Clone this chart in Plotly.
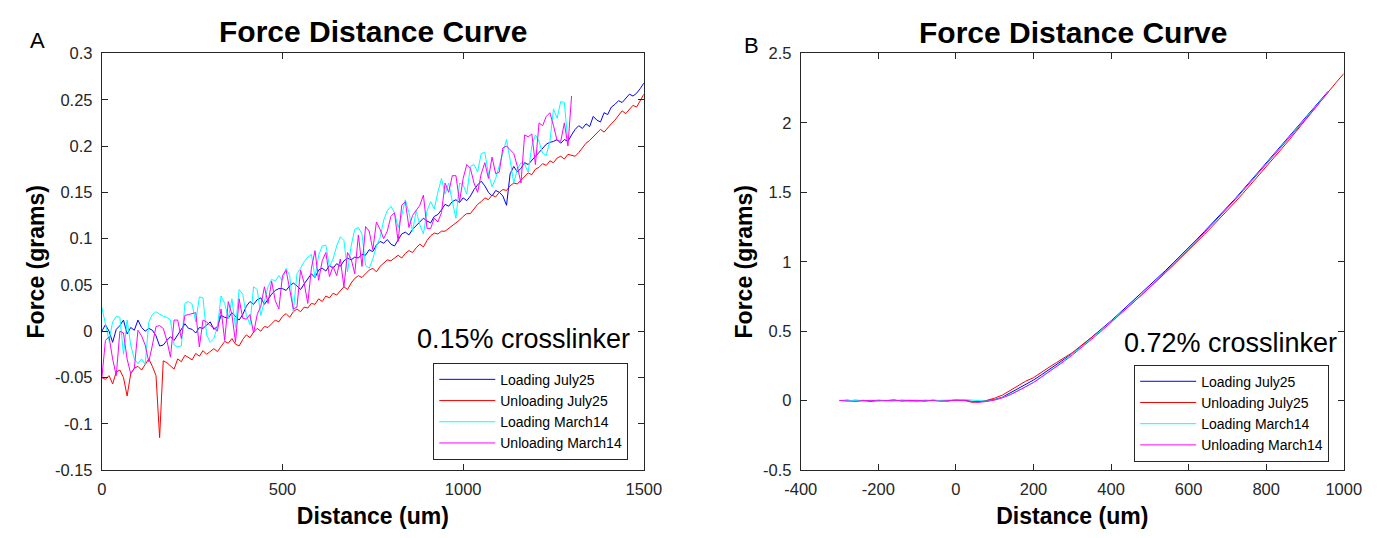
import plotly.graph_objects as go

# ---------------- Panel A data (0.15% crosslinker) ----------------
dist_a_july = list(range(0, 1501, 10))
dist_a_march_load = list(range(0, 1291, 10))
dist_a_march_unload = list(range(0, 1301, 10))

load_july_a = [
    0.000, 0.007, 0.000, -0.012, 0.002, 0.006, 0.012, -0.003, 0.004, 0.001, 0.012,
    0.004, 0.000, 0.003, 0.001, -0.005, -0.016, -0.015, -0.010, -0.006, -0.010,
    -0.004, 0.002, 0.008, 0.003, 0.002, -0.002, 0.004, 0.003, 0.007, 0.010,
    0.002, 0.005, 0.017, 0.015, 0.014, 0.020, 0.016, 0.012, 0.018, 0.027,
    0.032, 0.029, 0.034, 0.036, 0.029, 0.035, 0.040, 0.044, 0.046, 0.046,
    0.044, 0.049, 0.052, 0.049, 0.045, 0.051, 0.056, 0.062, 0.058, 0.066,
    0.068, 0.065, 0.071, 0.068, 0.073, 0.070, 0.076, 0.079, 0.077, 0.080,
    0.079, 0.083, 0.082, 0.088, 0.086, 0.093, 0.097, 0.095, 0.099, 0.094,
    0.092, 0.098, 0.105, 0.107, 0.104, 0.110, 0.114, 0.118, 0.122, 0.119,
    0.117, 0.124, 0.126, 0.131, 0.137, 0.135, 0.140, 0.142, 0.139, 0.144,
    0.141, 0.146, 0.153, 0.158, 0.162, 0.157, 0.150, 0.146, 0.152, 0.150,
    0.146, 0.136, 0.170, 0.178, 0.172, 0.176, 0.182, 0.180, 0.185, 0.189,
    0.193, 0.197, 0.202, 0.204, 0.205, 0.207, 0.203, 0.207, 0.205, 0.212,
    0.218, 0.222, 0.219, 0.224, 0.221, 0.232, 0.228, 0.226, 0.236, 0.234,
    0.242, 0.245, 0.249, 0.247, 0.252, 0.256, 0.254, 0.257, 0.262, 0.268,
]
unload_july_a = [
    -0.050, -0.052, -0.048, -0.057, -0.044, -0.042, -0.050, -0.070, -0.046, -0.040,
    -0.038, -0.042, -0.036, -0.030, -0.038, -0.048, -0.115, -0.032, -0.034, -0.037,
    -0.041, -0.030, -0.033, -0.026, -0.029, -0.031, -0.024, -0.027, -0.021, -0.025,
    -0.022, -0.019, -0.022, -0.016, -0.011, -0.013, -0.008, -0.014, -0.016, -0.009,
    -0.004, -0.007, -0.001, 0.003, 0.000, 0.005, 0.004, 0.008, 0.012, 0.010,
    0.016, 0.019, 0.015, 0.021, 0.024, 0.021, 0.026, 0.025, 0.030, 0.029,
    0.035, 0.032, 0.038, 0.036, 0.041, 0.039, 0.044, 0.048, 0.045, 0.052,
    0.057, 0.060, 0.058, 0.062, 0.066, 0.068, 0.064, 0.070, 0.074, 0.077,
    0.076, 0.079, 0.082, 0.079, 0.084, 0.087, 0.085, 0.090, 0.094, 0.091,
    0.098, 0.103, 0.106, 0.105, 0.108, 0.108, 0.111, 0.113, 0.117, 0.120,
    0.124, 0.127, 0.127, 0.132, 0.137, 0.140, 0.144, 0.142, 0.147, 0.145,
    0.150, 0.153, 0.152, 0.157, 0.160, 0.159, 0.163, 0.167, 0.171, 0.169,
    0.175, 0.177, 0.181, 0.179, 0.184, 0.182, 0.187, 0.189, 0.186, 0.191,
    0.190, 0.189, 0.193, 0.198, 0.203, 0.206, 0.210, 0.214, 0.218, 0.215,
    0.220, 0.224, 0.228, 0.233, 0.238, 0.235, 0.240, 0.244, 0.242, 0.249, 0.256,
]
load_march_a = [
    0.026, 0.008, -0.010, 0.010, 0.016, 0.015, -0.025, 0.012, -0.015, -0.030,
    -0.035, -0.030, -0.036, 0.010, 0.018, 0.021, 0.018, 0.016, 0.015, 0.012,
    -0.015, -0.017, -0.016, 0.030, 0.032, 0.029, 0.010, 0.037, 0.036, -0.004, -0.012,
    -0.008, 0.005, 0.038, 0.030, 0.014, 0.035, 0.004, 0.045, 0.040, 0.017,
    0.007, 0.048, 0.045, 0.017, 0.032, 0.048, 0.056, 0.054, 0.060, 0.055,
    0.068, 0.060, 0.021, 0.062, 0.068, 0.075, 0.080, 0.083, 0.058, 0.082, 0.092, 0.093,
    0.070, 0.078, 0.092, 0.102, 0.098, 0.064, 0.092, 0.110, 0.112, 0.105,
    0.071, 0.068, 0.078, 0.092, 0.101, 0.120, 0.130, 0.135, 0.128, 0.112,
    0.125, 0.142, 0.128, 0.108, 0.130, 0.115, 0.105, 0.130, 0.140, 0.132, 0.150, 0.165,
    0.148, 0.160, 0.140, 0.122, 0.160, 0.158, 0.148, 0.178, 0.180, 0.172,
    0.192, 0.193, 0.170, 0.156, 0.165, 0.180, 0.195, 0.207, 0.185, 0.160,
    0.175, 0.182, 0.180, 0.172, 0.200, 0.212, 0.205, 0.192, 0.190, 0.205,
    0.240, 0.230, 0.248, 0.247, 0.204,
]
unload_march_a = [
    -0.051, -0.010, -0.006, -0.030, -0.048, 0.000, -0.002, -0.030, -0.046, -0.040,
    0.001, -0.005, -0.015, -0.033, -0.015, 0.005, 0.006, 0.003, -0.010, -0.028,
    0.012, 0.012, -0.008, 0.017, 0.018, 0.019, 0.020, -0.017, 0.012, 0.010, 0.006,
    0.004, 0.000, 0.024, -0.010, 0.032, 0.018, -0.012, 0.035, 0.014, 0.013,
    0.018, -0.002, 0.018, 0.027, 0.048, 0.030, 0.054, 0.033, 0.024, 0.060,
    0.066, 0.046, 0.024, 0.026, 0.066, 0.052, 0.030, 0.068, 0.087, 0.055, 0.076, 0.085,
    0.059, 0.070, 0.060, 0.078, 0.048, 0.085, 0.078, 0.062, 0.104, 0.070,
    0.113, 0.108, 0.088, 0.118, 0.110, 0.100, 0.108, 0.124, 0.128, 0.097,
    0.136, 0.140, 0.112, 0.125, 0.130, 0.136, 0.147, 0.111, 0.111, 0.122, 0.118, 0.128,
    0.160, 0.150, 0.168, 0.168, 0.140, 0.165, 0.180, 0.176, 0.160, 0.150,
    0.170, 0.182, 0.165, 0.188, 0.170, 0.172, 0.198, 0.200, 0.196, 0.192,
    0.178, 0.160, 0.212, 0.210, 0.213, 0.180, 0.225, 0.222, 0.232, 0.236,
    0.222, 0.206, 0.205, 0.225, 0.200, 0.254,
]

# ---------------- Panel B data (0.72% crosslinker) ----------------
dist_b_short = list(range(-300, 961, 20))
dist_b_long = list(range(-300, 1001, 20))

flat_load_july_b = [0.000, 0.003, -0.002, 0.002, -0.004, 0.001, 0.000, 0.004,
                    -0.002, 0.002, 0.001, -0.003, 0.003, 0.000, -0.002, 0.005]
load_july_b = flat_load_july_b + [
    0.004, -0.006, -0.008, 0.000, 0.008, 0.025, 0.055, 0.085, 0.115, 0.148,
    0.185, 0.222, 0.260, 0.298, 0.338, 0.384, 0.430, 0.478, 0.526, 0.575,
    0.625, 0.676, 0.726, 0.776, 0.827, 0.882, 0.936, 0.991, 1.045, 1.100,
    1.158, 1.216, 1.274, 1.332, 1.390, 1.454, 1.518, 1.582, 1.646, 1.710,
    1.774, 1.838, 1.902, 1.966, 2.030, 2.096, 2.162, 2.228,
]
flat_unload_july_b = [0.002, -0.002, 0.003, 0.000, -0.003, 0.002, 0.001, -0.002,
                      0.003, 0.001, -0.004, 0.002, 0.000, 0.003, -0.001, 0.004]
unload_july_b = flat_unload_july_b + [
    0.006, -0.012, -0.010, 0.002, 0.018, 0.040, 0.075, 0.105, 0.140, 0.165,
    0.205, 0.240, 0.275, 0.310, 0.345, 0.390, 0.432, 0.478, 0.522, 0.568,
    0.615, 0.665, 0.714, 0.765, 0.815, 0.868, 0.920, 0.973, 1.027, 1.082,
    1.138, 1.195, 1.252, 1.310, 1.368, 1.430, 1.492, 1.555, 1.618, 1.682,
    1.748, 1.814, 1.880, 1.946, 2.015, 2.085, 2.155, 2.225, 2.290, 2.355,
]
flat_load_march_b = [0.000, 0.002, 0.001, -0.002, 0.003, 0.004, 0.001, -0.001,
                     0.002, 0.005, 0.001, 0.003, -0.001, 0.002, 0.004, 0.006]
load_march_b = flat_load_march_b + [
    0.008, 0.004, 0.000, -0.004, 0.005, 0.022, 0.045, 0.072, 0.100, 0.132,
    0.170, 0.210, 0.250, 0.292, 0.335, 0.380, 0.425, 0.472, 0.520, 0.568,
    0.617, 0.667, 0.717, 0.768, 0.820, 0.874, 0.928, 0.982, 1.037, 1.092,
    1.150, 1.208, 1.266, 1.325, 1.384, 1.447, 1.511, 1.575, 1.639, 1.703,
    1.767, 1.831, 1.895, 1.960, 2.025, 2.090, 2.156, 2.222,
]
flat_unload_march_b = [0.001, -0.001, -0.006, -0.001, 0.002, -0.003, 0.001, 0.003,
                       -0.002, 0.000, 0.002, -0.002, 0.001, -0.005, 0.000, 0.002]
unload_march_b = flat_unload_march_b + [
    0.000, -0.008, -0.012, -0.006, 0.004, 0.020, 0.042, 0.070, 0.100, 0.130,
    0.168, 0.205, 0.245, 0.285, 0.328, 0.372, 0.418, 0.465, 0.513, 0.562,
    0.612, 0.662, 0.713, 0.764, 0.816, 0.870, 0.924, 0.979, 1.034, 1.090,
    1.148, 1.207, 1.266, 1.326, 1.386, 1.448, 1.511, 1.574, 1.637, 1.700,
    1.764, 1.828, 1.892, 1.957, 2.022, 2.088, 2.154, 2.220,
]

series_names = ["Loading July25", "Unloading July25", "Loading March14", "Unloading March14"]
series_colors = ["#0000FF", "#FF0000", "#00FFFF", "#FF00FF"]

# Tick values / labels
a_xticks = [0, 500, 1000, 1500]
a_xlabels = ["0", "500", "1000", "1500"]
a_yticks = [-0.15, -0.1, -0.05, 0, 0.05, 0.1, 0.15, 0.2, 0.25, 0.3]
a_ylabels = ["-0.15", "-0.1", "-0.05", "0", "0.05", "0.1", "0.15", "0.2", "0.25", "0.3"]
b_xticks = [-400, -200, 0, 200, 400, 600, 800, 1000]
b_xlabels = ["-400", "-200", "0", "200", "400", "600", "800", "1000"]
b_yticks = [-0.5, 0, 0.5, 1, 1.5, 2, 2.5]
b_ylabels = ["-0.5", "0", "0.5", "1", "1.5", "2", "2.5"]

FONT = "Liberation Sans, Arial, Helvetica, sans-serif"
AX = "#262626"
W, H = 1392, 538

fig = go.Figure()

a_data = [(dist_a_july, load_july_a), (dist_a_july, unload_july_a),
          (dist_a_march_load, load_march_a), (dist_a_march_unload, unload_march_a)]
for (xs, ys), name, col in zip(a_data, series_names, series_colors):
    fig.add_trace(go.Scatter(x=xs, y=ys, mode="lines", name=name,
                             line=dict(color=col, width=1), xaxis="x", yaxis="y",
                             legend="legend"))

b_data = [(dist_b_short, load_july_b), (dist_b_long, unload_july_b),
          (dist_b_short, load_march_b), (dist_b_short, unload_march_b)]
for (xs, ys), name, col in zip(b_data, series_names, series_colors):
    fig.add_trace(go.Scatter(x=xs, y=ys, mode="lines", name=name,
                             line=dict(color=col, width=1), xaxis="x2", yaxis="y2",
                             legend="legend2"))


def px_x(p):
    return p / W


def px_y(p):
    return 1 - p / H


axis_common = dict(showgrid=False, zeroline=False, showline=True, linecolor=AX,
                   linewidth=1, mirror="ticks", ticks="inside", ticklen=6,
                   tickcolor=AX, tickwidth=1,
                   tickfont=dict(family=FONT, size=16.5, color=AX))
title_font = dict(family=FONT, size=23, color="#000000")
legend_common = dict(xanchor="left", yanchor="top", bgcolor="white", bordercolor=AX,
                     borderwidth=1, font=dict(family=FONT, size=14, color="#000000"),
                     tracegroupgap=0, itemwidth=56)

fig.update_layout(
    width=W, height=H,
    margin=dict(l=0, r=0, t=0, b=0),
    paper_bgcolor="white", plot_bgcolor="white",
    showlegend=True,
    xaxis=dict(domain=[px_x(87), px_x(643)], range=[0, 1500], anchor="y",
               tickvals=a_xticks, ticktext=a_xlabels, ticklabelstandoff=4,
               title=dict(text="<b>Distance (um)</b>", font=title_font, standoff=11),
               **axis_common),
    yaxis=dict(domain=[px_y(477), px_y(46)], range=[-0.15, 0.3], anchor="x",
               tickvals=a_yticks, ticktext=a_ylabels, ticklabelstandoff=5,
               title=dict(text="<b>Force (grams)</b>", font=title_font, standoff=3),
               **axis_common),
    xaxis2=dict(domain=[px_x(804), px_x(1361)], range=[-400, 1000], anchor="y2",
                tickvals=b_xticks, ticktext=b_xlabels, ticklabelstandoff=4,
                title=dict(text="<b>Distance (um)</b>", font=title_font, standoff=11),
                **axis_common),
    yaxis2=dict(domain=[px_y(477), px_y(46)], range=[-0.5, 2.5], anchor="x2",
                tickvals=b_yticks, ticktext=b_ylabels, ticklabelstandoff=5,
                title=dict(text="<b>Force (grams)</b>", font=title_font, standoff=3),
                **axis_common),
    legend=dict(x=px_x(427), y=px_y(366), **legend_common),
    legend2=dict(x=px_x(1146), y=px_y(368), **legend_common),
)

annotations = [
    dict(text="<b>Force Distance Curve</b>", x=px_x(365), y=px_y(23), xref="paper", yref="paper",
         showarrow=False, xanchor="center", yanchor="middle",
         font=dict(family=FONT, size=30, color="#000000")),
    dict(text="<b>Force Distance Curve</b>", x=px_x(1083), y=px_y(24), xref="paper", yref="paper",
         showarrow=False, xanchor="center", yanchor="middle",
         font=dict(family=FONT, size=30, color="#000000")),
    dict(text="A", x=px_x(21), y=px_y(33), xref="paper", yref="paper", showarrow=False,
         xanchor="center", yanchor="middle", font=dict(family=FONT, size=22, color="#000000")),
    dict(text="B", x=px_x(753), y=px_y(38), xref="paper", yref="paper", showarrow=False,
         xanchor="center", yanchor="middle", font=dict(family=FONT, size=22, color="#000000")),
    dict(text="0.15% crosslinker", x=px_x(520), y=px_y(341), xref="paper", yref="paper",
         showarrow=False, xanchor="center", yanchor="middle",
         font=dict(family=FONT, size=27, color="#000000")),
    dict(text="0.72% crosslinker", x=px_x(1245), y=px_y(346), xref="paper", yref="paper",
         showarrow=False, xanchor="center", yanchor="middle",
         font=dict(family=FONT, size=27, color="#000000")),
]
fig.update_layout(annotations=annotations)

fig.write_html(
    "out.html",
    config={"displayModeBar": False},
    post_script="document.body.style.margin='0';document.body.style.padding='0';"
                "document.documentElement.style.overflow='hidden';"
                "document.body.style.overflow='hidden';",
)
